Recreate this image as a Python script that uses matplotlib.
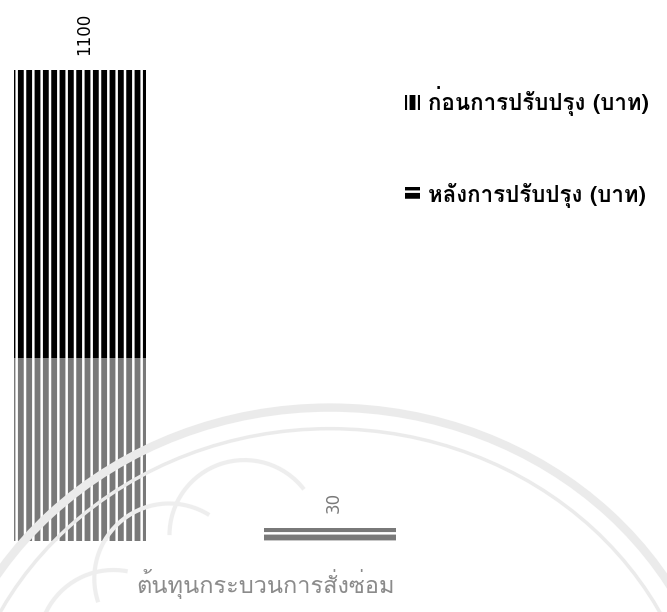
import matplotlib
matplotlib.use("Agg")
import matplotlib.pyplot as plt
from matplotlib.patches import Rectangle, Circle, Patch, Arc
import numpy as np

# ---- data ----
category = "ต้นทุนกระบวนการสั่งซ่อม"
series_names = ["ก่อนการปรับปรุง (บาท)", "หลังการปรับปรุง (บาท)"]
values = [1100, 30]
hatches = ["||", "--"]

plt.rcParams["hatch.color"] = "black"
plt.rcParams["hatch.linewidth"] = 4.2
thai_font = ["Loma", "DejaVu Sans"]

W, H = 667, 612
fig = plt.figure(figsize=(W / 100, H / 100), dpi=100)

# plot area: baseline near the lower part, tallest bar reaching the top margin
base_px, top_px = 541, 70
ax = fig.add_axes([0, (H - base_px) / H, 1, (base_px - top_px) / H])
ax.set_ylim(0, max(values))

x = np.arange(len(values))
c0_px, step_px, width_px = 80, 250, 132
left = -c0_px / step_px
ax.set_xlim(left, left + W / step_px)
ax.set_axis_off()

for xi, v, h in zip(x, values, hatches):
    ax.bar(xi, v, width=width_px / step_px, facecolor="white",
           edgecolor="black", linewidth=0, hatch=h)
    ax.annotate(f"{v}", (xi, v), xytext=(3, 11), textcoords="offset points",
                rotation=90, ha="center", va="bottom", fontsize=12,
                family="DejaVu Sans", color="black", annotation_clip=False)

# legend with hatched swatches
handles = [Patch(facecolor="white", edgecolor="black", linewidth=0, hatch=h)
           for h in hatches]
fig.legend(handles, series_names, loc="upper left",
           bbox_to_anchor=(394 / W, 1 - 75 / H), frameon=False,
           handlelength=0.65, handleheight=0.65, handletextpad=0.4,
           labelspacing=3.0, borderpad=0,
           prop={"family": thai_font, "size": 16, "weight": "bold"})

# category label under the bars
fig.text(265 / W, 1 - 584 / H, category, ha="center", va="center",
         fontsize=17, family=thai_font, color="#222222")

# faint seal printed across the lower half of the page
seal = (330, 770)
for r, lw in [(395, 6), (372, 2.5)]:
    fig.add_artist(Circle((seal[0] / W, 1 - seal[1] / H), r / W,
                          transform=fig.transFigure, fill=False,
                          edgecolor="#d9d9d9", linewidth=lw, zorder=5))
for ang in np.linspace(110, 190, 5):
    cx = seal[0] + 250 * np.cos(np.radians(ang))
    cy = seal[1] - 250 * np.sin(np.radians(ang))
    fig.add_artist(Arc((cx / W, 1 - cy / H), 150 / W, 150 / H,
                       theta1=ang - 70, theta2=ang + 70,
                       transform=fig.transFigure, edgecolor="#e0e0e0",
                       linewidth=3, zorder=5))
fig.add_artist(Rectangle((0, 0), 1, (H - 358) / H, transform=fig.transFigure,
                         facecolor="white", alpha=0.48, linewidth=0, zorder=6))

fig.savefig("out.png", dpi=100)
